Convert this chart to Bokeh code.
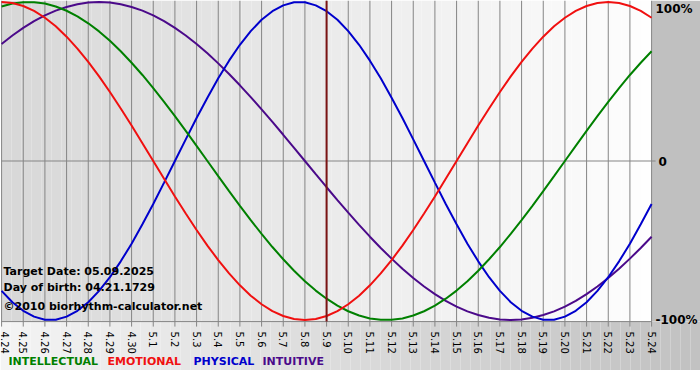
import math
import numpy as np
from bokeh.plotting import figure
from bokeh.models import Range1d, LinearAxis, FixedTicker, Label
from bokeh.embed import file_html
from bokeh.resources import INLINE

# ---------------- data ----------------
day_labels = ["4.24", "4.25", "4.26", "4.27", "4.28", "4.29", "4.30",
              "5.1", "5.2", "5.3", "5.4", "5.5", "5.6", "5.7", "5.8", "5.9",
              "5.10", "5.11", "5.12", "5.13", "5.14", "5.15", "5.16", "5.17",
              "5.18", "5.19", "5.20", "5.21", "5.22", "5.23", "5.24"]
days = list(range(len(day_labels)))
# curve values read every half day (4.24 .. 5.24)
sample_days = [i / 2 for i in range(61)]

intellectual = [0.972, 0.990, 0.999, 0.999, 0.990, 0.972, 0.945, 0.910, 0.866, 0.815,
                0.756, 0.690, 0.618, 0.541, 0.458, 0.372, 0.282, 0.189, 0.095, 0.0,
                -0.095, -0.189, -0.282, -0.372, -0.458, -0.541, -0.618, -0.690, -0.756,
                -0.815, -0.866, -0.910, -0.945, -0.972, -0.990, -0.999, -0.999, -0.990,
                -0.972, -0.945, -0.910, -0.866, -0.815, -0.756, -0.690, -0.618, -0.541,
                -0.458, -0.372, -0.282, -0.189, -0.095, 0.0, 0.095, 0.189, 0.282, 0.372,
                0.458, 0.541, 0.618, 0.690]
emotional = [1.0, 0.994, 0.975, 0.944, 0.901, 0.847, 0.782, 0.707, 0.623, 0.532,
             0.434, 0.330, 0.223, 0.112, 0.0, -0.112, -0.223, -0.330, -0.434, -0.532,
             -0.623, -0.707, -0.782, -0.847, -0.901, -0.944, -0.975, -0.994, -1.0,
             -0.994, -0.975, -0.944, -0.901, -0.847, -0.782, -0.707, -0.623, -0.532,
             -0.434, -0.330, -0.223, -0.112, 0.0, 0.112, 0.223, 0.330, 0.434, 0.532,
             0.623, 0.707, 0.782, 0.847, 0.901, 0.944, 0.975, 0.994, 1.0, 0.994,
             0.975, 0.944, 0.901]
physical = [-0.817, -0.888, -0.942, -0.979, -0.998, -0.998, -0.979, -0.942, -0.888,
            -0.817, -0.731, -0.631, -0.520, -0.398, -0.270, -0.136, 0.0, 0.136, 0.270,
            0.398, 0.520, 0.631, 0.731, 0.817, 0.888, 0.942, 0.979, 0.998, 0.998,
            0.979, 0.942, 0.888, 0.817, 0.731, 0.631, 0.520, 0.398, 0.270, 0.136, 0.0,
            -0.136, -0.270, -0.398, -0.520, -0.631, -0.731, -0.817, -0.888, -0.942,
            -0.979, -0.998, -0.998, -0.979, -0.942, -0.888, -0.817, -0.731, -0.631,
            -0.520, -0.398, -0.270]
intuitive = [0.736, 0.789, 0.837, 0.880, 0.916, 0.946, 0.969, 0.986, 0.997, 1.0,
             0.997, 0.986, 0.969, 0.946, 0.916, 0.880, 0.837, 0.789, 0.736, 0.677,
             0.614, 0.547, 0.476, 0.402, 0.325, 0.246, 0.165, 0.083, 0.0, -0.083,
             -0.165, -0.246, -0.325, -0.402, -0.476, -0.547, -0.614, -0.677, -0.736,
             -0.789, -0.837, -0.880, -0.916, -0.946, -0.969, -0.986, -0.997, -1.0,
             -0.997, -0.986, -0.969, -0.946, -0.916, -0.880, -0.837, -0.789, -0.736,
             -0.677, -0.614, -0.547, -0.476]

target_day = 15
right_ticks = [1, 0, -1]
right_labels = ["100%", "0", "-100%"]
series_names = ["INTELLECTUAL", "EMOTIONAL", "PHYSICAL", "INTUITIVE"]
info_lines = ["Target Date: 05.09.2025", "Day of birth: 04.21.1729",
              "\u00a92010 biorhythm-calculator.net"]

# ---------------- geometry / style ----------------
W, H = 700, 370
PXD = 650.0 / 30.0          # pixels per day
X0 = -0.05                  # data x at left canvas edge
ZERO_PX = 160.5
PXU = 159.0                 # pixels per unit of y
Y_TOP = ZERO_PX / PXU
Y_BOT = -(H - ZERO_PX) / PXU
PLOT_BOTTOM = -1.01
X_LAST = days[-1]


def dx(px):
    return X0 + px / PXD


def dy(py):
    return (ZERO_PX - py) / PXU


colors = {"INTELLECTUAL": "#008000", "EMOTIONAL": "#f01010",
          "PHYSICAL": "#0000cc", "INTUITIVE": "#4b0a8a"}
FONT = "DejaVu Sans"
GRID = "#858585"

p = figure(width=W, height=H, output_backend="svg", toolbar_location=None,
           x_range=Range1d(X0, dx(W)), y_range=Range1d(Y_BOT, Y_TOP),
           x_axis_location=None, y_axis_location=None, min_border=0)
p.outline_line_color = None
p.background_fill_color = "#ffffff"
p.border_fill_color = "#ffffff"
p.xgrid.visible = False
p.ygrid.visible = False


def grey_strips(x_start, x_end, y0, y1, c0, c1, n):
    edges = np.linspace(x_start, x_end, n + 1)
    vals = np.linspace(c0, c1, n)
    cols = ["#%02x%02x%02x" % (int(v), int(v), int(v)) for v in vals]
    p.quad(left=edges[:-1], right=edges[1:] + 0.002, bottom=y0, top=y1,
           fill_color=cols, line_color=None)


# bottom panel gradient (full width)
grey_strips(dx(0), dx(W), Y_BOT, PLOT_BOTTOM, 0xf4, 0xc2, 70)
# right panel
p.quad(left=[X_LAST], right=[dx(W)], bottom=[PLOT_BOTTOM], top=[Y_TOP],
       fill_color="#c0c0c0", line_color=None)
# plot area gradient
grey_strips(days[0], X_LAST, PLOT_BOTTOM, Y_TOP, 0xd8, 0xfe, 65)

# vertical day lines (extend a little below as ticks)
p.segment(x0=days, x1=days, y0=PLOT_BOTTOM - 5 / PXU, y1=Y_TOP,
          line_color=GRID, line_width=1)
# zero line and bottom line
p.segment(x0=[days[0]], x1=[X_LAST + 4 / PXD], y0=[0], y1=[0],
          line_color=GRID, line_width=1)
p.segment(x0=[days[0]], x1=[X_LAST], y0=[PLOT_BOTTOM], y1=[PLOT_BOTTOM],
          line_color=GRID, line_width=1)

# bottom axis with day labels
xa = LinearAxis(fixed_location=PLOT_BOTTOM)
xa.ticker = FixedTicker(ticks=days)
xa.major_label_overrides = {d: lab for d, lab in zip(days, day_labels)}
xa.major_label_orientation = -math.pi / 2
xa.major_label_text_font = FONT
xa.major_label_text_font_size = "10px"
xa.major_label_text_color = "#000000"
xa.major_label_standoff = 4
xa.axis_line_color = None
xa.major_tick_line_color = None
xa.minor_tick_line_color = None
p.add_layout(xa, "below")

# curves
series = {"INTELLECTUAL": intellectual, "EMOTIONAL": emotional,
          "PHYSICAL": physical, "INTUITIVE": intuitive}
for name in ["INTUITIVE", "PHYSICAL", "INTELLECTUAL", "EMOTIONAL"]:
    p.line(sample_days, series[name], line_color=colors[name], line_width=2)

# target day line
p.segment(x0=[target_day], x1=[target_day], y0=[PLOT_BOTTOM], y1=[Y_TOP],
          line_color="#7a1414", line_width=2)

# right side labels
for v, lab in zip(right_ticks, right_labels):
    py = max(ZERO_PX - v * PXU, 8)
    px = 658 if v == 0 else 655
    p.add_layout(Label(x=dx(px), y=dy(py), text=lab, text_font=FONT,
                       text_font_style="bold", text_font_size="12px",
                       text_color="#000000", text_baseline="middle",
                       text_align="left"))

# info texts
for py, line in zip([271, 287, 306], info_lines):
    p.add_layout(Label(x=dx(3), y=dy(py), text=line, text_font=FONT,
                       text_font_style="bold", text_font_size="11px",
                       text_color="#000000", text_baseline="middle"))

# legend words
for px, name in zip([8, 107, 193, 262], series_names):
    p.add_layout(Label(x=dx(px), y=dy(361), text=name, text_font=FONT,
                       text_font_style="bold", text_font_size="11px",
                       text_color=colors[name], text_baseline="middle"))

open("out.html", "w").write(file_html(p, INLINE))
